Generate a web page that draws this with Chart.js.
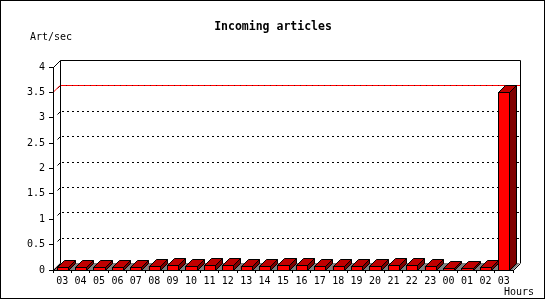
<!DOCTYPE html>
<html><head><meta charset="utf-8">
<script src="https://cdn.jsdelivr.net/npm/chart.js@4.4.0/dist/chart.umd.min.js"></script>
<style>html,body{margin:0;padding:0;background:#fff}canvas{display:block}</style>
</head><body>
<canvas id="c" width="550" height="300"></canvas>
<script>
const chartTitle = 'Incoming articles';
const yUnit = 'Art/sec';
const xUnit = 'Hours';
const hours = ['03','04','05','06','07','08','09','10','11','12','13','14','15','16','17','18','19','20','21','22','23','00','01','02','03'];
const articlesPerSec = [0.06,0.06,0.06,0.06,0.06,0.08,0.10,0.08,0.10,0.10,0.08,0.08,0.10,0.10,0.08,0.08,0.08,0.08,0.10,0.10,0.08,0.03,0.03,0.05,3.5];
const yTicks = [0,0.5,1,1.5,2,2.5,3,3.5,4];
const yTickLabels = ['0','0.5','1','1.5','2','2.5','3','3.5','4'];

const DEPTH = 7;
const FONT = '"DejaVu Sans Mono", "Liberation Mono", monospace';

const threeD = {
  id: 'threeD',
  beforeDraw(chart) {
    const ctx = chart.ctx;
    ctx.save();
    ctx.fillStyle = '#fff';
    ctx.fillRect(0, 0, chart.width, chart.height);
    ctx.strokeStyle = '#000';
    ctx.lineWidth = 1;
    ctx.strokeRect(0.5, 0.5, 544, 298);
    ctx.fillStyle = '#000';
    ctx.textAlign = 'center';
    ctx.textBaseline = 'middle';
    ctx.font = 'bold 11.5px ' + FONT;
    ctx.fillText(chartTitle, 273, 27);
    ctx.font = '10px ' + FONT;
    ctx.textAlign = 'left';
    ctx.fillText(yUnit, 30, 37);
    ctx.textAlign = 'right';
    ctx.fillText(xUnit, 534, 292);
    ctx.restore();
  },
  beforeDatasetsDraw(chart) {
    const ctx = chart.ctx;
    const a = chart.chartArea;
    const ys = chart.scales.y;
    const L = Math.round(a.left), R = Math.round(a.right), T = Math.round(a.top), B = Math.round(a.bottom);
    const D = DEPTH;
    ctx.save();
    ctx.lineWidth = 1;
    // floor
    ctx.fillStyle = '#808080';
    ctx.beginPath();
    ctx.moveTo(L, B); ctx.lineTo(R, B); ctx.lineTo(R + D, B - D); ctx.lineTo(L + D, B - D); ctx.closePath();
    ctx.fill();
    // dotted gridlines on back wall
    const maxV = Math.max(...articlesPerSec);
    ctx.strokeStyle = '#000';
    yTicks.forEach(v => {
      if (v <= 0 || v >= ys.max) return;
      const y = Math.round(ys.getPixelForValue(v)) - D + 0.5;
      ctx.setLineDash([2, 3]);
      ctx.beginPath(); ctx.moveTo(L + D + 2, y); ctx.lineTo(R + D, y); ctx.stroke();
      ctx.setLineDash([]);
      ctx.beginPath(); ctx.moveTo(L + D - 2.5, y + 3); ctx.lineTo(L + D + 0.5, y); ctx.stroke();
    });
    // max line (red)
    const ym = Math.round(ys.getPixelForValue(maxV));
    ctx.strokeStyle = '#ff0000';
    ctx.beginPath(); ctx.moveTo(L + D, ym - D + 0.5); ctx.lineTo(R + D, ym - D + 0.5); ctx.stroke();
    ctx.beginPath(); ctx.moveTo(L, ym + 0.5); ctx.lineTo(L + D, ym - D + 0.5); ctx.stroke();
    ctx.strokeStyle = '#800000';
    ctx.setLineDash([1, 5]);
    ctx.beginPath(); ctx.moveTo(L + D, ym - D + 0.5); ctx.lineTo(R + D, ym - D + 0.5); ctx.stroke();
    ctx.setLineDash([]);
    // back wall frame
    ctx.strokeStyle = '#000';
    ctx.beginPath();
    ctx.moveTo(L + D + 0.5, B - D); ctx.lineTo(L + D + 0.5, T - D + 0.5);
    ctx.lineTo(R + D + 0.5, T - D + 0.5); ctx.lineTo(R + D + 0.5, B - D);
    ctx.stroke();
    // axes
    ctx.beginPath();
    ctx.moveTo(L + 0.5, T); ctx.lineTo(L + 0.5, B + 0.5); ctx.lineTo(R, B + 0.5);
    ctx.stroke();
    ctx.beginPath(); ctx.moveTo(L + 0.5, T + 0.5); ctx.lineTo(L + D + 0.5, T - D + 0.5); ctx.stroke();
    ctx.beginPath(); ctx.moveTo(L + 0.5, B + 0.5); ctx.lineTo(L + D + 0.5, B - D + 0.5); ctx.stroke();
    ctx.beginPath(); ctx.moveTo(R + 0.5, B + 0.5); ctx.lineTo(R + D + 0.5, B - D + 0.5); ctx.stroke();
    ctx.restore();
  },
  afterDatasetsDraw(chart) {
    const ctx = chart.ctx;
    const D = DEPTH;
    const meta = chart.getDatasetMeta(0);
    ctx.save();
    ctx.lineWidth = 1;
    ctx.strokeStyle = '#000';
    meta.data.forEach(bar => {
      const p = bar.getProps(['x', 'y', 'base', 'width'], true);
      const x0 = Math.round(p.x - p.width / 2) + 0.5;
      const x1 = Math.round(p.x + p.width / 2) + 0.5;
      const yt = Math.round(p.y) + 0.5;
      const yb = Math.round(p.base) + 0.5;
      // side
      ctx.fillStyle = '#800000';
      ctx.beginPath();
      ctx.moveTo(x1, yt); ctx.lineTo(x1 + D, yt - D); ctx.lineTo(x1 + D, yb - D); ctx.lineTo(x1, yb); ctx.closePath();
      ctx.fill(); ctx.stroke();
      // top
      ctx.fillStyle = '#c00000';
      ctx.beginPath();
      ctx.moveTo(x0, yt); ctx.lineTo(x0 + D, yt - D); ctx.lineTo(x1 + D, yt - D); ctx.lineTo(x1, yt); ctx.closePath();
      ctx.fill(); ctx.stroke();
      // front
      ctx.fillStyle = '#ff0000';
      ctx.fillRect(x0, yt, x1 - x0, yb - yt);
      ctx.strokeRect(x0, yt, x1 - x0, yb - yt);
    });
    ctx.restore();
  }
};

new Chart(document.getElementById('c'), {
  type: 'bar',
  data: {
    labels: hours,
    datasets: [{
      data: articlesPerSec,
      backgroundColor: '#ff0000',
      borderColor: '#000',
      borderWidth: 0,
      barPercentage: 0.6,
      categoryPercentage: 1
    }]
  },
  options: {
    responsive: false,
    animation: false,
    devicePixelRatio: 1,
    layout: { padding: { left: 0, right: 37, top: 67, bottom: 0 } },
    plugins: { legend: { display: false }, title: { display: false }, tooltip: { enabled: false } },
    scales: {
      x: {
        offset: true,
        grid: { display: true, drawOnChartArea: false, drawTicks: true, tickLength: 3, color: '#000', offset: true },
        border: { display: false },
        ticks: { color: '#000', font: { family: FONT, size: 10 }, padding: 2, maxRotation: 0, autoSkip: false },
        afterFit(s) { s.height = 30; }
      },
      y: {
        min: 0, max: 4,
        afterBuildTicks(s) { s.ticks = yTicks.map(v => ({ value: v })); },
        grid: { drawOnChartArea: false, drawTicks: true, tickLength: 4, color: '#000' },
        border: { display: false },
        ticks: {
          color: '#000', font: { family: FONT, size: 10 }, padding: 4,
          callback(value, index) { return yTickLabels[index]; }
        },
        afterFit(s) { s.width = 53; }
      }
    }
  },
  plugins: [threeD]
});
</script>
</body></html>
